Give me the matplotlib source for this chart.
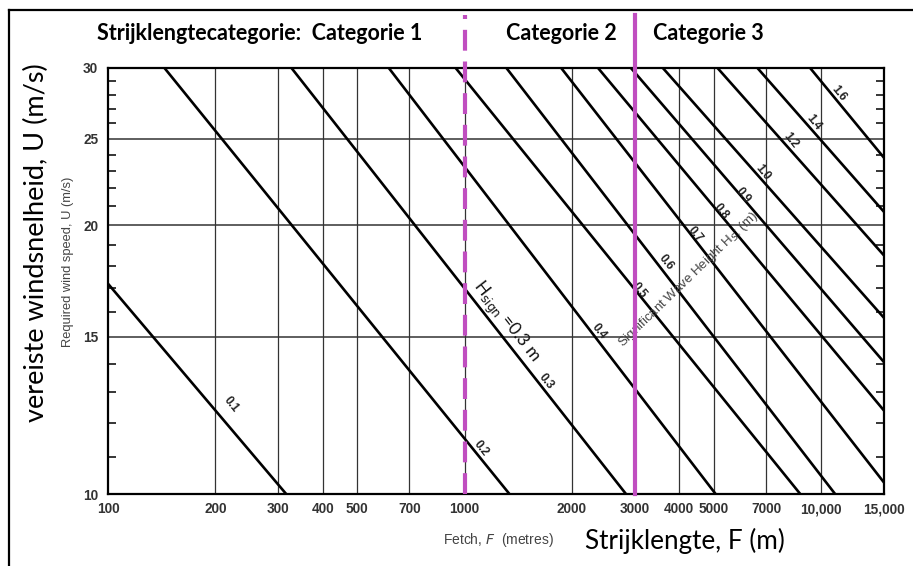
import matplotlib
matplotlib.use("Agg")
import matplotlib.pyplot as plt
from matplotlib.lines import Line2D

# 显示字体
plt.rcParams['font.family'] = ['Liberation Sans', 'DejaVu Sans']

W, H = 913, 566

# 波高线 (Hs, m): 起点与终点 (F 单位 m, U 单位 m/s)
wave_h = ['0.1', '0.2', '0.3', '0.4', '0.5', '0.6', '0.7', '0.8', '0.9',
          '1.0', '1.2', '1.4', '1.6']
f_start = [100, 144, 327, 613, 944, 1310, 1866, 2367, 2927, 3597, 5120, 6625, 9310]
u_start = [17.2, 30, 30, 30, 30, 30, 30, 30, 30, 30, 30, 30, 30]
f_end = [316, 1336, 2835, 5058, 8735, 10940, 15000, 15000, 15000, 15000,
         15000, 15000, 15000]
u_end = [10, 10, 10, 10, 10, 10, 10.3, 12.4, 14.05, 15.75, 18.5, 20.7, 23.8]

# 标签位置 (F, U)
label_f = [222, 1109, 1694, 2384, 3083, 3664, 4417, 5223, 6053, 6839, 8193, 9550, 11230]
label_u = [12.6, 11.26, 13.35, 15.22, 16.88, 18.19, 19.55, 20.7, 21.6, 22.9, 24.9, 26.1, 28.1]

x_ticks = [100, 200, 300, 400, 500, 700, 1000, 2000, 3000, 4000, 5000, 7000, 10000, 15000]
x_tick_labels = ['100', '200', '300', '400', '500', '700', '1000', '2000', '3000',
                 '4000', '5000', '7000', '10,000', '15,000']
y_ticks = [10, 15, 20, 25, 30]
y_minor = [11, 12, 13, 14, 16, 17, 18, 19, 21, 22, 23, 24, 26, 27, 28, 29]

# 类别边界
cat_bounds = [1000, 3000]
magenta = '#c04ec0'


def fx(px):
    return px / W


def fy(py):
    return 1 - py / H


fig = plt.figure(figsize=(W / 100, H / 100), dpi=100)
ax = fig.add_axes([fx(108), fy(494), fx(884) - fx(108), fy(68) - fy(494)])
ax.set_xscale('log')
ax.set_yscale('log')
ax.set_xlim(100, 15000)
ax.set_ylim(10, 30)

# 网格
for xv in x_ticks[1:-1]:
    ax.axvline(xv, color='#333333', lw=0.9, zorder=1)
for yv in y_ticks[1:-1]:
    ax.axhline(yv, color='#333333', lw=1.1, zorder=1)

# 波高线
for i in range(len(wave_h)):
    ax.plot([f_start[i], f_end[i]], [u_start[i], u_end[i]], color='black',
            lw=1.9, solid_capstyle='butt', zorder=3)
    ax.text(label_f[i], label_u[i], wave_h[i], rotation=-51, fontsize=8.5,
            fontweight='bold', ha='center', va='center', rotation_mode='anchor',
            color='#222222', zorder=4)

ax.set_xticks(x_ticks)
ax.set_xticklabels(x_tick_labels)
ax.set_yticks(y_ticks)
ax.set_yticklabels([str(v) for v in y_ticks])
ax.xaxis.set_minor_locator(matplotlib.ticker.NullLocator())
ax.set_yticks(y_minor, minor=True)
ax.yaxis.set_minor_formatter(matplotlib.ticker.NullFormatter())
ax.tick_params(axis='x', which='both', length=0, pad=6, labelsize=9.8,
               labelcolor='#333333')
ax.tick_params(axis='y', which='major', length=0, pad=7, labelsize=9.8,
               labelcolor='#333333')
ax.tick_params(axis='y', which='minor', direction='in', length=6, width=1.1,
               left=True, right=True)
for lab in ax.get_xticklabels() + ax.get_yticklabels():
    lab.set_fontweight('bold')
for sp in ax.spines.values():
    sp.set_linewidth(1.6)

# 类别分界线
ax.plot([cat_bounds[0]] * 2, [10, 34.4], color=magenta, lw=3, dashes=(5, 2.6),
        clip_on=False, zorder=5)
ax.plot([cat_bounds[1]] * 2, [10, 34.4], color=magenta, lw=3, clip_on=False,
        zorder=5)

# 原图中的小字
ax.text(4227, 17.36, 'Significant Wave Height H$_S$; (m)', rotation=44,
        fontsize=9.5, color='#444444', ha='center', va='center',
        rotation_mode='anchor', zorder=4)
ax.text(1303, 15.58, r'H$_{\mathrm{sign}}$ =0.3 m', rotation=-52, fontsize=12.5,
        ha='center', va='center', rotation_mode='anchor', color='#111111',
        family=['Lato', 'DejaVu Sans'], zorder=4)
fig.text(fx(68), fy(262), 'Required wind speed, U (m/s)', rotation=90,
         fontsize=9.3, color='#444444', ha='center', va='center')
fig.text(fx(498), fy(540), 'Fetch, $F$  (metres)', fontsize=10,
         color='#444444', ha='center', va='center')

# 荷兰语标注
dutch = ['Lato', 'DejaVu Sans']
fig.text(fx(97), fy(33), 'Strijklengtecategorie:  Categorie 1', fontsize=15.5,
         fontweight='bold', family=dutch, ha='left', va='center')
fig.text(fx(561), fy(33), 'Categorie 2', fontsize=15.5, fontweight='bold',
         family=dutch, ha='center', va='center')
fig.text(fx(653), fy(33), 'Categorie 3', fontsize=15.5, fontweight='bold',
         family=dutch, ha='left', va='center')
fig.text(fx(36), fy(243), 'vereiste windsnelheid, U (m/s)', rotation=90,
         fontsize=19.5, family=dutch, ha='center', va='center')
fig.text(fx(585), fy(541), 'Strijklengte, F (m)', fontsize=18.8, family=dutch,
         ha='left', va='center')

# 外框
fig.add_artist(Line2D([fx(9), fx(9)], [0, fy(10)], color='black', lw=1.6,
                      transform=fig.transFigure))
fig.add_artist(Line2D([fx(9), 1], [fy(10), fy(10)], color='black', lw=1.6,
                      transform=fig.transFigure))

fig.savefig('out.png', dpi=100)
